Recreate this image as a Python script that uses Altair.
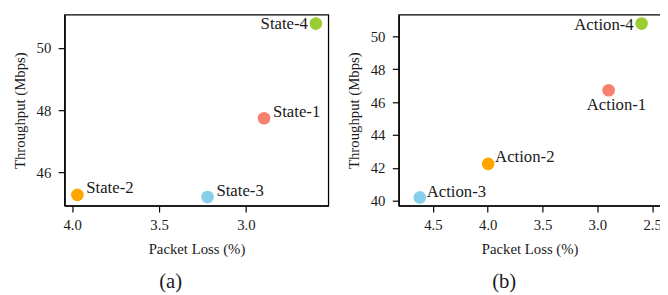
import altair as alt
import pandas as pd

# ---- data ----
state_labels = ["State-1", "State-2", "State-3", "State-4"]
state_loss = [2.896, 3.97, 3.221, 2.598]
state_tput = [47.74, 45.28, 45.21, 50.78]

action_labels = ["Action-1", "Action-2", "Action-3", "Action-4"]
action_loss = [2.897, 3.996, 4.62, 2.596]
action_tput = [46.72, 42.24, 40.2, 50.78]

colors = ["#F7806F", "#FFA500", "#87CEEB", "#9ACD32"]

state_xticks = [4.0, 3.5, 3.0]
state_yticks = [46, 48, 50]
action_xticks = [4.5, 4.0, 3.5, 3.0, 2.5]
action_yticks = [40, 42, 44, 46, 48, 50]

FONT = "Liberation Serif"
TXT = "#1a1a1a"

# label placement styles (align, dx, dy)
label_style = {
    "State-1": ("left", 9, -6),
    "State-2": ("left", 9, -7),
    "State-3": ("left", 9, -6),
    "State-4": ("right", -8, 0),
    "Action-1": ("center", 8, 15),
    "Action-2": ("left", 7, -7),
    "Action-3": ("left", 7, -5),
    "Action-4": ("right", -8, 2),
}


def panel(labels, loss, tput, xdom, ydom, xticks, yticks, width, caption):
    df = pd.DataFrame({"label": labels, "loss": loss, "tput": tput, "color": colors})
    x = alt.X(
        "loss:Q",
        scale=alt.Scale(domain=xdom, reverse=True, nice=False, zero=False),
        axis=alt.Axis(values=xticks, format=".1f", title="Packet Loss (%)"),
    )
    y = alt.Y(
        "tput:Q",
        scale=alt.Scale(domain=ydom, nice=False, zero=False),
        axis=alt.Axis(values=yticks, format="d", title="Throughput (Mbps)"),
    )
    base = alt.Chart(df)
    pts = base.mark_circle(size=165, opacity=1).encode(
        x=x, y=y, color=alt.Color("color:N", scale=None)
    )
    layers = [pts]
    for lab in labels:
        al, dx, dy = label_style[lab]
        layers.append(
            base.transform_filter(alt.datum.label == lab)
            .mark_text(align=al, baseline="middle", dx=dx, dy=dy, font=FONT,
                       fontSize=17, color=TXT)
            .encode(x=x, y=y, text="label:N")
        )
    return alt.layer(*layers).properties(
        width=width,
        height=194,
        title=alt.TitleParams(
            caption, orient="bottom", frame="bounds", anchor="middle",
            font=FONT, fontSize=21, fontWeight="normal", color=TXT, offset=15,
        ),
    )


left = panel(state_labels, state_loss, state_tput, [2.526, 4.0436], [44.935, 51.065],
             state_xticks, state_yticks, 268, "(a)")
right = panel(action_labels, action_loss, action_tput, [2.4237, 4.8125], [39.70, 51.32],
              action_xticks, action_yticks, 266, "(b)")

chart = (
    alt.hconcat(left, right, spacing=71.5, bounds="flush")
    .properties(padding={"left": 3.5, "top": 3.5, "right": -3, "bottom": 0})
    .configure_view(stroke="black", strokeWidth=1.3)
    .configure_axis(
        domain=True, domainColor="black", domainWidth=1.3,
        ticks=True, tickColor="black", tickWidth=1.2, tickSize=6.5,
        grid=False,
        labelFont=FONT, labelFontSize=15, labelColor=TXT, labelPadding=6,
        titleFont=FONT, titleFontSize=15, titleFontWeight="normal", titleColor=TXT,
        titlePadding=9,
    )
    .configure_axisY(titlePadding=8.5, labelPadding=7.5)
)

chart.save("out.html", embed_options={"renderer": "svg", "actions": False})
